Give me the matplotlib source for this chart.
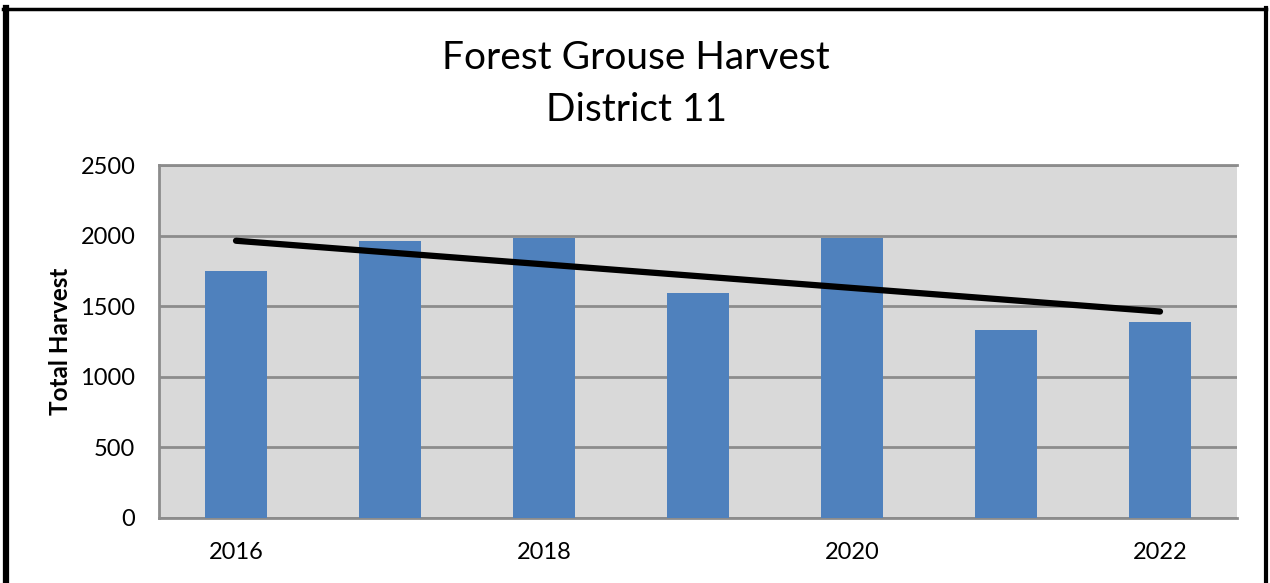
import numpy as np
import matplotlib.pyplot as plt
from matplotlib.lines import Line2D

years = [2016, 2017, 2018, 2019, 2020, 2021, 2022]
harvest = [1750, 1960, 1985, 1590, 1985, 1330, 1390]
tick_years = [2016, 2018, 2020, 2022]
yticks = [0, 500, 1000, 1500, 2000, 2500]

plt.rcParams['font.family'] = ['Lato', 'DejaVu Sans']

W, H = 1270, 583
fig = plt.figure(figsize=(W / 100, H / 100), dpi=100)
ax = fig.add_axes([159 / W, 1 - 518 / H, (1237 - 159) / W, (518 - 165) / H])

x = np.arange(len(years))
ax.set_facecolor('#D9D9D9')
ax.bar(x, harvest, width=0.4, color='#4F81BD', zorder=3)

# linear trend
k, b = np.polyfit(x, harvest, 1)
ax.plot([x[0], x[-1]], [b + k * x[0], b + k * x[-1]], color='black',
        lw=4.5, solid_capstyle='round', zorder=4)

ax.set_xlim(-0.5, len(years) - 0.5)
ax.set_ylim(0, 2500)
ax.set_yticks(yticks)
ax.set_yticklabels([str(v) for v in yticks], fontsize=17)
ax.set_xticks([years.index(y) for y in tick_years])
ax.set_xticklabels([str(y) for y in tick_years], fontsize=17)
ax.tick_params(length=0)
ax.tick_params(axis='y', pad=17)
ax.tick_params(axis='x', pad=17)
ax.yaxis.grid(True, color='#8C8C8C', lw=2, zorder=1)
ax.set_axisbelow(True)
for s in ['left', 'bottom', 'top']:
    ax.spines[s].set_color('#8C8C8C')
    ax.spines[s].set_linewidth(2)
ax.spines['right'].set_visible(False)

ax.set_ylabel('Total Harvest', fontsize=17.5, fontweight='bold', labelpad=6)

fig.text(636 / W, 1 - 58 / H, 'Forest Grouse Harvest', ha='center',
         va='center', fontsize=28)
fig.text(636 / W, 1 - 110 / H, 'District 11', ha='center',
         va='center', fontsize=28)

# outer frame
def fl(x0, y0, x1, y1, lw):
    fig.add_artist(Line2D([x0 / W, x1 / W], [1 - y0 / H, 1 - y1 / H],
                          color='black', lw=lw, transform=fig.transFigure))

fl(6, 8, 6, H, 4.5)
fl(3, 8.5, 1266, 8.5, 2.5)
fl(1265.5, 8, 1265.5, H, 3)

fig.savefig('out.png', dpi=100)
